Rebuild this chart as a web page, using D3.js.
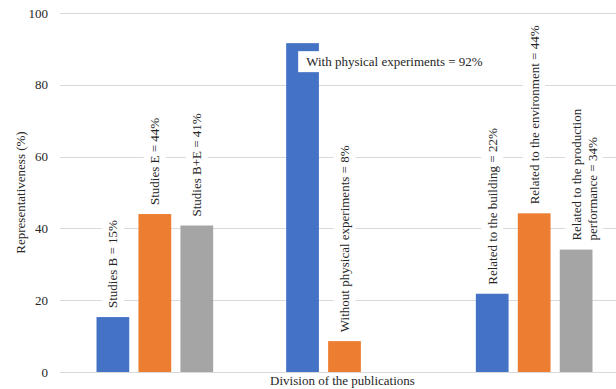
<!DOCTYPE html>
<html>
<head>
<meta charset="utf-8">
<script src="https://cdn.jsdelivr.net/npm/d3@7"></script>
<style>
  html, body { margin: 0; padding: 0; background: #fff; }
  svg { display: block; }
  text { font-family: "Liberation Serif", "Times New Roman", serif; fill: #262626; }
</style>
</head>
<body>
<svg id="chart" width="616" height="389"></svg>
<script>
// ---- data ----
const categories = ["Type of study", "Physical experiments", "Relation"];
const seriesNames = ["Series 1", "Series 2", "Series 3"];
const seriesColors = ["#4472C4", "#ED7D31", "#A5A5A5"];
const series1Values = [15.3, 91.6, 21.8];
const series2Values = [44, 8.6, 44.2];
const series3Values = [40.8, null, 34.1];
const series1Labels = [["Studies B = 15%"], null, ["Related to the building = 22%"]];
const series2Labels = [["Studies E = 44%"], ["Without physical experiments = 8%"], ["Related to the environment  = 44%"]];
const series3Labels = [["Studies B+E = 41%"], null, ["Related to the production", "performance  = 34%"]];
const horizontalLabel = "With physical experiments = 92%";
const yTicks = [0, 20, 40, 60, 80, 100];
const yTitle = "Representativeness (%)";
const xTitle = "Division of the publications";

(function () {
const svg = d3.select("#chart");
const pLeft = 60, pRight = 629, pTop = 13, pBottom = 372;

const y = d3.scaleLinear().domain([0, 100]).range([pBottom, pTop]);
const x0 = d3.scaleBand().domain(categories).range([pLeft, pRight]).padding(0);
const x1 = d3.scaleBand().domain(seriesNames).range([0, x0.bandwidth()])
  .paddingInner(0.22).paddingOuter(0.87);

// gridlines
svg.append("g").selectAll("line").data(yTicks).join("line")
  .attr("x1", pLeft).attr("x2", 616)
  .attr("y1", d => Math.round(y(d)) + 0.5).attr("y2", d => Math.round(y(d)) + 0.5)
  .attr("stroke", "#d9d9d9").attr("stroke-width", 1);

// y axis tick labels
const yAxis = d3.axisLeft(y).tickValues(yTicks).tickSize(0).tickPadding(12);
const ya = svg.append("g").attr("transform", `translate(${pLeft},0)`).call(yAxis);
ya.select(".domain").remove();
ya.selectAll("text").style("font-family", '"Liberation Serif", "Times New Roman", serif')
  .style("font-size", "13px").attr("fill", "#262626");

// rows
const rows = categories.map((c, i) => ({
  cat: c,
  vals: [series1Values[i], series2Values[i], series3Values[i]],
  labs: [series1Labels[i], series2Labels[i], series3Labels[i]]
}));

const items = [];
rows.forEach(r => {
  r.vals.forEach((v, j) => {
    if (v == null) return;
    items.push({ cat: r.cat, s: seriesNames[j], v, color: seriesColors[j], lab: r.labs[j] });
  });
});

// bars
svg.append("g").selectAll("rect").data(items).join("rect")
  .attr("x", d => x0(d.cat) + x1(d.s))
  .attr("width", x1.bandwidth())
  .attr("y", d => y(d.v))
  .attr("height", d => y(0) - y(d.v))
  .attr("fill", d => d.color);

// rotated labels with white boxes
const lineGap = 16;
items.filter(d => d.lab).forEach(d => {
  const cx = x0(d.cat) + x1(d.s) + x1.bandwidth() / 2;
  const g = svg.append("g").attr("transform", `translate(${cx},${y(d.v) - 1}) rotate(-90)`);
  const rect = g.append("rect").attr("fill", "#fff");
  let maxLen = 0;
  d.lab.forEach((line, k) => {
    const t = g.append("text")
      .attr("x", 8).attr("y", k * lineGap)
      .attr("dy", "0.35em")
      .style("font-size", "13px")
      .text(line);
    maxLen = Math.max(maxLen, t.node().getComputedTextLength());
  });
  rect.attr("x", 0).attr("y", -11)
    .attr("width", maxLen + 16)
    .attr("height", (d.lab.length - 1) * lineGap + 22);
});

// horizontal label on the tallest bar
const big = items.find(d => d.cat === categories[1] && d.s === seriesNames[0]);
const bx = x0(big.cat) + x1(big.s) + 12;
const by = y(big.v) + 8;
const hg = svg.append("g");
const hr = hg.append("rect").attr("fill", "#fff");
const ht = hg.append("text").attr("x", bx + 8).attr("y", by + 15)
  .style("font-size", "13px").text(horizontalLabel);
hr.attr("x", bx).attr("y", by).attr("height", 21)
  .attr("width", ht.node().getComputedTextLength() + 16);

// axis titles
svg.append("text")
  .attr("transform", `translate(20,${(pTop + pBottom) / 2}) rotate(-90)`)
  .attr("text-anchor", "middle").attr("dy", "0.35em")
  .style("font-size", "13px").text(yTitle);

svg.append("text")
  .attr("x", (pLeft + pRight) / 2 - 2).attr("y", 385)
  .attr("text-anchor", "middle")
  .style("font-size", "13px").text(xTitle);
})();
</script>
</body>
</html>
